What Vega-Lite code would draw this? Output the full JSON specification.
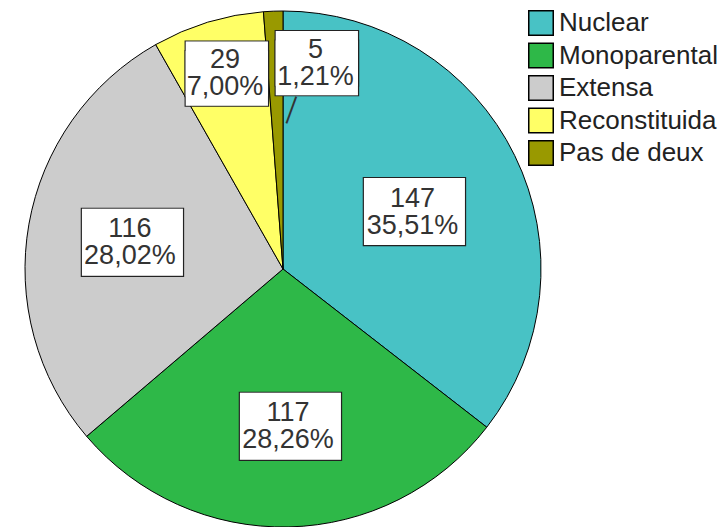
{
  "$schema": "https://vega.github.io/schema/vega-lite/v6.json",
  "autosize": "none",
  "width": 566,
  "height": 518,
  "padding": {"left": 0, "top": 10, "right": 161, "bottom": 0},
  "background": "white",
  "config": {"view": {"stroke": null}},
  "data": {"values": [
    {"i": 1, "cat": "Nuclear", "n": 147, "lab": ["147", "35,51%"]},
    {"i": 2, "cat": "Monoparental", "n": 117, "lab": ["117", "28,26%"]},
    {"i": 3, "cat": "Extensa", "n": 116, "lab": ["116", "28,02%"]},
    {"i": 4, "cat": "Reconstituida", "n": 29, "lab": ["29", "7,00%"]},
    {"i": 5, "cat": "Pas de deux", "n": 5, "lab": ["5", "1,21%"]}
  ]},
  "encoding": {
    "theta": {"field": "n", "type": "quantitative", "stack": true},
    "order": {"field": "i", "type": "quantitative"},
    "detail": {"field": "cat", "type": "nominal"}
  },
  "layer": [
    {
      "mark": {"type": "arc", "outerRadius": 258, "stroke": "#000", "strokeWidth": 1},
      "encoding": {
        "color": {
          "field": "cat", "type": "nominal",
          "sort": ["Nuclear", "Monoparental", "Extensa", "Reconstituida", "Pas de deux"],
          "scale": {"domain": ["Nuclear", "Monoparental", "Extensa", "Reconstituida", "Pas de deux"],
                    "range": ["#48C2C5", "#2EB848", "#CCCCCC", "#FFFF66", "#999900"]},
          "legend": {"title": null, "orient": "none", "legendX": 528, "legendY": 0,
                     "padding": 0, "symbolType": "square", "symbolSize": 600,
                     "symbolStrokeColor": "#000", "symbolStrokeWidth": 1.5, "symbolOpacity": 1,
                     "labelFont": "Liberation Sans", "labelFontSize": 26, "labelColor": "#222",
                     "labelOffset": 5, "rowPadding": 0.5, "labelLimit": 300}
        }
      }
    },
    {
      "mark": {"type": "text", "font": "DejaVu Sans", "fontSize": 24, "angle": 20, "radius": 158, "dx": 13.15, "dy": -4.79, "fill": "#333", "baseline": "middle", "align": "center"},
      "encoding": {"text": {"condition": {"test": "datum.cat === 'Pas de deux'", "value": "│"}, "value": ""}}
    },

    {"mark": {"type": "text", "font": "DejaVu Sans", "fontSize": 85, "angle": 90, "radius": 143, "dx": 5.6, "dy": 0.2, "fill": "#222", "stroke": "#222", "strokeWidth": 2.4, "baseline": "middle", "align": "center"},
     "encoding": {"text": {"condition": {"test": "datum.cat === 'Nuclear'", "value": "█"}, "value": ""}}},
    {"mark": {"type": "text", "font": "DejaVu Sans", "fontSize": 85, "angle": 90, "radius": 157, "dx": 0.6, "dy": -0.3, "fill": "#222", "stroke": "#222", "strokeWidth": 2.4, "baseline": "middle", "align": "center"},
     "encoding": {"text": {"condition": {"test": "datum.cat === 'Monoparental' || datum.cat === 'Extensa'", "value": "█"}, "value": ""}}},
    {"mark": {"type": "text", "font": "DejaVu Sans", "fontSize": 69.2, "angle": 90, "radius": 204, "dx": -5.05, "dy": -0.5, "fill": "#222", "stroke": "#222", "strokeWidth": 2.4, "baseline": "middle", "align": "center"},
     "encoding": {"text": {"condition": {"test": "datum.cat === 'Reconstituida'", "value": "█"}, "value": ""}}},
    {"mark": {"type": "text", "font": "DejaVu Sans", "fontSize": 69.2, "angle": 90, "radius": 204, "dx": 4.45, "dy": -0.5, "fill": "#222", "stroke": "#222", "strokeWidth": 2.4, "baseline": "middle", "align": "center"},
     "encoding": {"text": {"condition": {"test": "datum.cat === 'Reconstituida'", "value": "█"}, "value": ""}}},
    {"mark": {"type": "text", "font": "DejaVu Sans", "fontSize": 69.2, "angle": 90, "radius": 206, "dx": -4.75, "dy": -39.3, "fill": "#222", "stroke": "#222", "strokeWidth": 2.4, "baseline": "middle", "align": "center"},
     "encoding": {"text": {"condition": {"test": "datum.cat === 'Pas de deux'", "value": "█"}, "value": ""}}},
    {"mark": {"type": "text", "font": "DejaVu Sans", "fontSize": 69.2, "angle": 90, "radius": 206, "dx": 4.75, "dy": -39.3, "fill": "#222", "stroke": "#222", "strokeWidth": 2.4, "baseline": "middle", "align": "center"},
     "encoding": {"text": {"condition": {"test": "datum.cat === 'Pas de deux'", "value": "█"}, "value": ""}}},

    {"mark": {"type": "text", "font": "DejaVu Sans", "fontSize": 85, "angle": 90, "radius": 143, "dx": 5.6, "dy": 0.2, "fill": "white", "baseline": "middle", "align": "center"},
     "encoding": {"text": {"condition": {"test": "datum.cat === 'Nuclear'", "value": "█"}, "value": ""}}},
    {"mark": {"type": "text", "font": "DejaVu Sans", "fontSize": 85, "angle": 90, "radius": 157, "dx": 0.6, "dy": -0.3, "fill": "white", "baseline": "middle", "align": "center"},
     "encoding": {"text": {"condition": {"test": "datum.cat === 'Monoparental' || datum.cat === 'Extensa'", "value": "█"}, "value": ""}}},
    {"mark": {"type": "text", "font": "DejaVu Sans", "fontSize": 69.2, "angle": 90, "radius": 204, "dx": -5.05, "dy": -0.5, "fill": "white", "baseline": "middle", "align": "center"},
     "encoding": {"text": {"condition": {"test": "datum.cat === 'Reconstituida'", "value": "█"}, "value": ""}}},
    {"mark": {"type": "text", "font": "DejaVu Sans", "fontSize": 69.2, "angle": 90, "radius": 204, "dx": 4.45, "dy": -0.5, "fill": "white", "baseline": "middle", "align": "center"},
     "encoding": {"text": {"condition": {"test": "datum.cat === 'Reconstituida'", "value": "█"}, "value": ""}}},
    {"mark": {"type": "text", "font": "DejaVu Sans", "fontSize": 69.2, "angle": 90, "radius": 206, "dx": -4.75, "dy": -39.3, "fill": "white", "baseline": "middle", "align": "center"},
     "encoding": {"text": {"condition": {"test": "datum.cat === 'Pas de deux'", "value": "█"}, "value": ""}}},
    {"mark": {"type": "text", "font": "DejaVu Sans", "fontSize": 69.2, "angle": 90, "radius": 206, "dx": 4.75, "dy": -39.3, "fill": "white", "baseline": "middle", "align": "center"},
     "encoding": {"text": {"condition": {"test": "datum.cat === 'Pas de deux'", "value": "█"}, "value": ""}}},

    {"mark": {"type": "text", "font": "Liberation Sans", "fontSize": 27, "lineHeight": 27, "radius": 143, "dx": 1, "dy": -7.5, "fill": "#333", "baseline": "middle", "align": "center"},
     "encoding": {"text": {"condition": {"test": "datum.cat === 'Nuclear'", "field": "lab"}, "value": ""}}},
    {"mark": {"type": "text", "font": "Liberation Sans", "fontSize": 27, "lineHeight": 27, "radius": 157, "dx": 1.5, "dy": -12.5, "fill": "#333", "baseline": "middle", "align": "center"},
     "encoding": {"text": {"condition": {"test": "datum.cat === 'Monoparental' || datum.cat === 'Extensa'", "field": "lab"}, "value": ""}}},
    {"mark": {"type": "text", "font": "Liberation Sans", "fontSize": 27, "lineHeight": 27, "radius": 204, "dx": 1.5, "dy": -13.5, "fill": "#333", "baseline": "middle", "align": "center"},
     "encoding": {"text": {"condition": {"test": "datum.cat === 'Reconstituida'", "field": "lab"}, "value": ""}}},
    {"mark": {"type": "text", "font": "Liberation Sans", "fontSize": 27, "lineHeight": 27, "radius": 206, "dx": 40.3, "dy": -13.2, "fill": "#333", "baseline": "middle", "align": "center"},
     "encoding": {"text": {"condition": {"test": "datum.cat === 'Pas de deux'", "field": "lab"}, "value": ""}}}
  ]
}
